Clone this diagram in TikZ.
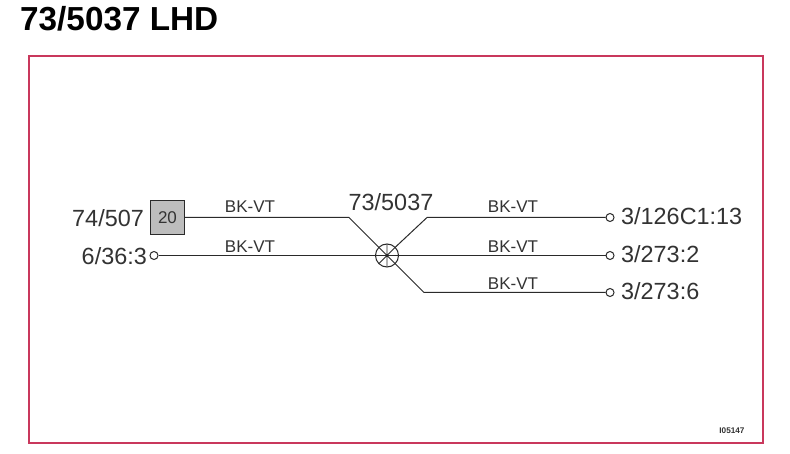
\documentclass[tikz,border=0pt]{standalone}
\usepackage{fontspec}
\setmainfont{Liberation Sans}
\definecolor{framered}{HTML}{C9385C}
\definecolor{wire}{HTML}{2A2A2A}
\definecolor{boxgray}{HTML}{BDBDBD}
\definecolor{ink}{HTML}{333333}
\tikzset{
  wireline/.style={draw=wire,line width=1pt},
  term/.style={circle,draw=wire,fill=white,line width=1pt,inner sep=0pt,minimum size=8pt},
  biglabel/.style={text=ink,inner sep=0pt,font=\fontsize{23.4}{24}\selectfont},
  wirelabel/.style={text=ink,inner sep=0pt,font=\fontsize{17}{18}\selectfont},
  junction/.style={circle,draw=wire,line width=1pt,inner sep=0pt,outer sep=0pt,minimum size=23pt},
}
\begin{document}
\begin{tikzpicture}[x=1pt,y=-1pt]
\useasboundingbox (0,0) rectangle (790,454);
\fill[white] (0,0) rectangle (790,454);
\node[anchor=base west,inner sep=0pt,font=\bfseries\fontsize{33.3}{34}\selectfont] (title) at (20,31) {73/5037 LHD};
\node[draw=framered,line width=2.8pt,outer sep=0pt,minimum width=734pt,minimum height=387pt,inner sep=0pt,anchor=north west] (frame) at (29,56) {};
% connectors' hosts
\node[draw=wire,fill=boxgray,line width=1pt,outer sep=0pt,minimum size=34pt,inner sep=0pt,text=ink,font=\fontsize{17}{18}\selectfont] (box) at (167.5,217.5) {20};
\node[term] (tl) at (154,255.5) {};
\node[junction] (j) at (387,255.5) {};
\node[term] (r1) at (610,217.5) {};
\node[term] (r2) at (610,255.5) {};
\node[term] (r3) at (610,292.5) {};
\coordinate (b1) at (349,217.5);
\coordinate (b2) at (427,217.5);
\coordinate (b3) at (424,292.5);
\draw[wireline] (box.east) -- (b1) -- (j.135);
\draw[wireline] (tl) -- (j);
\draw[wireline] (j.45) -- (b2) -- (r1);
\draw[wireline] (j) -- (r2);
\draw[wireline] (j.-45) -- (b3) -- (r3);
\draw[wire,line width=0.8pt] (j.135) -- (j.-45) (j.45) -- (j.-135) (j.north) -- (j.south) (j.west) -- (j.east);
% labels
\node[biglabel,anchor=base east] (l1) at (144,226.5) {74/507};
\node[biglabel,anchor=base east] (l2) at (147,264.5) {6/36:3};
\node[biglabel,anchor=base] (l3) at (391,210.5) {73/5037};
\node[biglabel,anchor=base west] (l4) at (621,224.5) {3/126C1:13};
\node[biglabel,anchor=base west] (l5) at (621,262.5) {3/273:2};
\node[biglabel,anchor=base west] (l6) at (621,299.5) {3/273:6};
\node[wirelabel,anchor=base] (w1) at (250,212.7) {BK-VT};
\node[wirelabel,anchor=base] (w2) at (250,252.7) {BK-VT};
\node[wirelabel,anchor=base] (w3) at (513,212.7) {BK-VT};
\node[wirelabel,anchor=base] (w4) at (513,252.7) {BK-VT};
\node[wirelabel,anchor=base] (w5) at (513,289.7) {BK-VT};
\node[anchor=base,inner sep=0pt,text=ink,font=\bfseries\fontsize{8.2}{9}\selectfont] (code) at (732,433) {I05147};
\end{tikzpicture}
\end{document}
